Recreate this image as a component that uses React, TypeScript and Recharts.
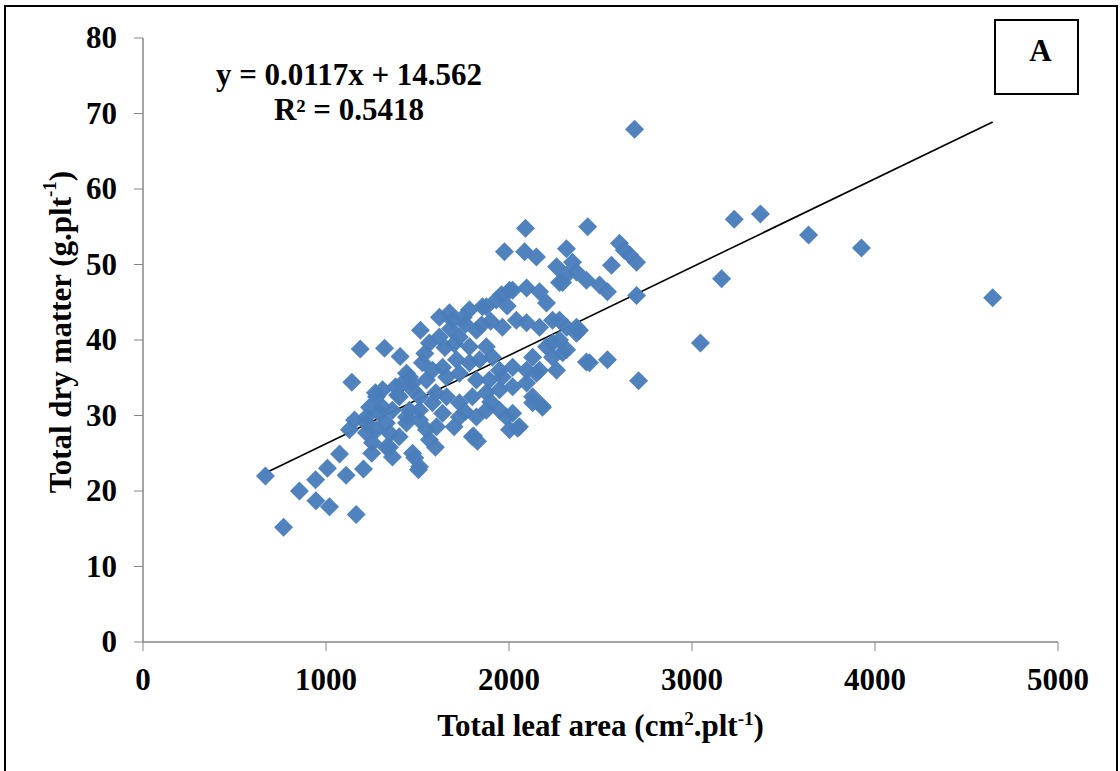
import React from "react";
import {
  ScatterChart,
  Scatter,
  XAxis,
  YAxis,
  ReferenceLine,
  Label,
} from "recharts";

// Total leaf area per plant (cm².plt⁻¹)
const leafArea = [
  669, 768, 855, 943, 945, 1019, 1008, 1074, 1110, 1165, 1141, 1187, 1320, 1205,
  1405, 1516, 1400, 1505, 1485, 1128, 1156, 1221, 1276, 1254, 1330, 1363, 1391,
  1440, 1473, 1511, 1456, 1440, 1511, 1549, 1527, 1582, 1270, 1309, 1620, 1691,
  1784, 1855, 1931, 2003, 2096, 2167, 2205, 2276, 2315, 1620, 1729, 1822, 1784,
  1876, 1964, 2040, 2096, 2167, 2238, 2315, 2369, 2440, 2276, 2205, 2238, 2293,
  2129, 2096, 2167, 2260, 2020, 1948, 1910, 1839, 1784, 1713, 1637, 1549, 1659,
  1729, 1456, 1418, 1473, 1401, 1276, 1238, 1292, 1221, 1363, 1440, 1511, 1582,
  1659, 1729, 1800, 1876, 1948, 2020, 2096, 1893, 1822, 1964, 2129, 2183, 2020,
  2057, 1948, 1876, 1822, 1729, 1637, 1604, 1565, 1800, 1473, 1347, 1221, 1330,
  2090, 2430, 1975, 2085, 2150, 2314, 2347, 2260, 2293, 2369, 2423, 2495, 2538,
  2604, 2658, 2697, 2560, 2697, 1959, 2020, 1876, 2276, 3162, 3231, 3374, 3637,
  3926, 4643, 3046, 2538, 2708, 2686, 1806, 2047, 2178, 1598, 1828, 2423, 2369,
  2129, 1986, 2150, 2315, 2238, 2385, 2630, 1511, 1675, 1565, 1309, 1680, 1650,
  1700, 1750, 1900, 1850, 1990, 1700, 1760, 1900, 2003, 1762, 1380, 1540, 1600,
  1350, 1250,
];

// Total dry matter per plant (g.plt⁻¹)
const dryMatter = [
  22.0, 15.2, 20.0, 21.5, 18.7, 17.9, 23.0, 24.9, 22.1, 16.9, 34.4, 38.8, 38.9, 22.9,
  37.8, 41.3, 27.2, 22.8, 24.4, 28.1, 29.4, 29.8, 28.1, 26.4, 25.8, 24.5, 32.7,
  35.6, 34.3, 32.5, 30.7, 29.0, 29.4, 28.1, 37.0, 36.0, 33.0, 31.1, 43.0, 42.6,
  44.0, 44.4, 45.3, 46.6, 46.9, 46.4, 44.9, 47.6, 48.6, 40.4, 40.4, 41.3, 39.1,
  39.1, 41.7, 42.6, 42.3, 41.7, 42.6, 41.7, 40.9, 37.0, 40.0, 39.1, 37.7, 38.3,
  37.7, 36.0, 36.0, 36.0, 36.4, 36.0, 37.7, 37.4, 37.0, 37.4, 36.4, 34.7, 35.1,
  35.6, 35.1, 34.3, 33.4, 32.5, 32.5, 31.1, 30.3, 29.0, 30.7, 29.8, 30.7, 31.7,
  32.5, 31.7, 32.5, 33.0, 33.4, 33.8, 34.3, 34.7, 34.7, 35.1, 32.5, 31.1, 30.3,
  28.5, 30.7, 30.7, 29.8, 29.8, 30.3, 28.5, 26.8, 27.2, 25.0, 25.8, 27.7, 29.0,
  54.8, 55.0, 51.7, 51.7, 51.0, 52.1, 50.3, 49.7, 47.6, 49.0, 47.9, 47.3, 46.4,
  52.8, 51.3, 50.3, 49.9, 45.9, 46.0, 46.6, 44.4, 42.6, 48.1, 56.0, 56.7, 53.9,
  52.2, 45.6, 39.6, 37.4, 34.6, 67.9, 27.3, 28.3, 31.3, 25.8, 26.6, 37.1, 41.7,
  31.7, 29.8, 35.6, 38.7, 39.6, 41.3, 51.9, 23.2, 43.6, 39.6, 33.4, 41.5, 39.0,
  39.5, 43.0, 42.5, 42.0, 44.5, 28.5, 30.5, 31.8, 28.1, 42.1, 33.8, 38.2, 33.0,
  27.6, 25.0,
];

const xTicks = [0, 1000, 2000, 3000, 4000, 5000];
const yTicks = [0, 10, 20, 30, 40, 50, 60, 70, 80];

// Linear regression reported on the chart
const slope = 0.0117;
const intercept = 14.562;
const rSquared = 0.5418;

const points = leafArea.map((x, i) => ({ x, y: dryMatter[i] }));
const xMin = Math.min(...leafArea);
const xMax = Math.max(...leafArea);

const FONT = '"Liberation Serif", "Times New Roman", serif';
const AXIS = "#868686";
const MARKER = "#4A7EBB";
const TEXT_SIZE = 31;
const SUP_SIZE = 19;

const Diamond = (props: any) => {
  const { cx, cy } = props;
  if (cx == null || cy == null) return null;
  const r = 9.5;
  return (
    <polygon
      points={`${cx},${cy - r} ${cx + r},${cy} ${cx},${cy + r} ${cx - r},${cy}`}
      fill={MARKER}
      fillOpacity={0.97}
    />
  );
};

const XTick = (props: any) => {
  const { x, y, payload } = props;
  return (
    <text
      x={x}
      y={y}
      dy={37}
      textAnchor="middle"
      fontFamily={FONT}
      fontWeight="bold"
      fontSize={TEXT_SIZE}
      fill="#000"
    >
      {payload.value}
    </text>
  );
};

const YTick = (props: any) => {
  const { x, y, payload } = props;
  return (
    <text
      x={x - 15}
      y={y}
      dy={10}
      textAnchor="end"
      fontFamily={FONT}
      fontWeight="bold"
      fontSize={TEXT_SIZE}
      fill="#000"
    >
      {payload.value}
    </text>
  );
};

const XTitle = (props: any) => {
  const vb = props.viewBox || {};
  const cx = vb.x + vb.width / 2;
  return (
    <text
      x={cx}
      y={vb.y + 94}
      textAnchor="middle"
      fontFamily={FONT}
      fontWeight="bold"
      fontSize={TEXT_SIZE}
      fill="#000"
    >
      <tspan>Total leaf area (cm</tspan>
      <tspan fontSize={SUP_SIZE} dy={-11}>2</tspan>
      <tspan dy={11}>.plt</tspan>
      <tspan fontSize={SUP_SIZE} dy={-11}>-1</tspan>
      <tspan dy={11}>)</tspan>
    </text>
  );
};

const YTitle = (props: any) => {
  const vb = props.viewBox || {};
  const cx = 60;
  const cy = vb.y + vb.height / 2 - 8;
  return (
    <text
      x={cx}
      y={cy}
      transform={`rotate(-90, ${cx}, ${cy})`}
      textAnchor="middle"
      dominantBaseline="central"
      fontFamily={FONT}
      fontWeight="bold"
      fontSize={TEXT_SIZE}
      fill="#000"
    >
      <tspan>Total dry matter (g.plt</tspan>
      <tspan fontSize={SUP_SIZE} dy={-11}>-1</tspan>
      <tspan dy={11}>)</tspan>
    </text>
  );
};

const lineStyle: React.CSSProperties = {
  position: "absolute",
  left: 149,
  width: 400,
  textAlign: "center",
  fontFamily: FONT,
  fontWeight: "bold",
  fontSize: TEXT_SIZE,
  lineHeight: "35px",
  color: "#000",
  whiteSpace: "nowrap",
};

export default function App() {
  return (
    <div
      style={{
        position: "absolute",
        left: 0,
        top: 0,
        width: 1120,
        height: 771,
        background: "#fff",
        overflow: "hidden",
      }}
    >
      <div
        style={{
          position: "absolute",
          left: 4,
          top: 5,
          width: 1114,
          height: 800,
          border: "2px solid #000",
          boxSizing: "border-box",
        }}
      />
      <ScatterChart
        width={1120}
        height={771}
        margin={{ top: 38, right: 62, bottom: 0, left: 0 }}
        style={{ position: "absolute", left: 0, top: 0 }}
      >
        <XAxis
          type="number"
          dataKey="x"
          domain={[0, 5000]}
          ticks={xTicks}
          interval={0}
          height={129}
          axisLine={{ stroke: AXIS, strokeWidth: 1.5 }}
          tickLine={{ stroke: AXIS, strokeWidth: 1 }}
          tickSize={9}
          tick={<XTick />}
        >
          <Label content={<XTitle />} />
        </XAxis>
        <YAxis
          type="number"
          dataKey="y"
          domain={[0, 80]}
          ticks={yTicks}
          interval={0}
          width={143}
          axisLine={{ stroke: AXIS, strokeWidth: 1.5 }}
          tickLine={{ stroke: AXIS, strokeWidth: 1 }}
          tickSize={9}
          tick={<YTick />}
        >
          <Label content={<YTitle />} />
        </YAxis>
        <Scatter
          data={points}
          shape={<Diamond />}
          isAnimationActive={false}
        />
        <ReferenceLine
          segment={[
            { x: xMin, y: slope * xMin + intercept },
            { x: xMax, y: slope * xMax + intercept },
          ]}
          stroke="#000"
          strokeWidth={1.6}
          ifOverflow="visible"
        />
      </ScatterChart>

      <div style={{ ...lineStyle, top: 57 }}>
        y = {slope}x + {intercept}
      </div>
      <div style={{ ...lineStyle, top: 92 }}>R² = {rSquared}</div>

      <div
        style={{
          position: "absolute",
          left: 994,
          top: 19,
          width: 85,
          height: 76,
          border: "2px solid #000",
          boxSizing: "border-box",
          fontFamily: FONT,
          fontWeight: "bold",
          fontSize: TEXT_SIZE,
          lineHeight: "32px",
          textAlign: "center",
          paddingTop: 14,
          paddingLeft: 8,
          color: "#000",
        }}
      >
        A
      </div>
    </div>
  );
}
